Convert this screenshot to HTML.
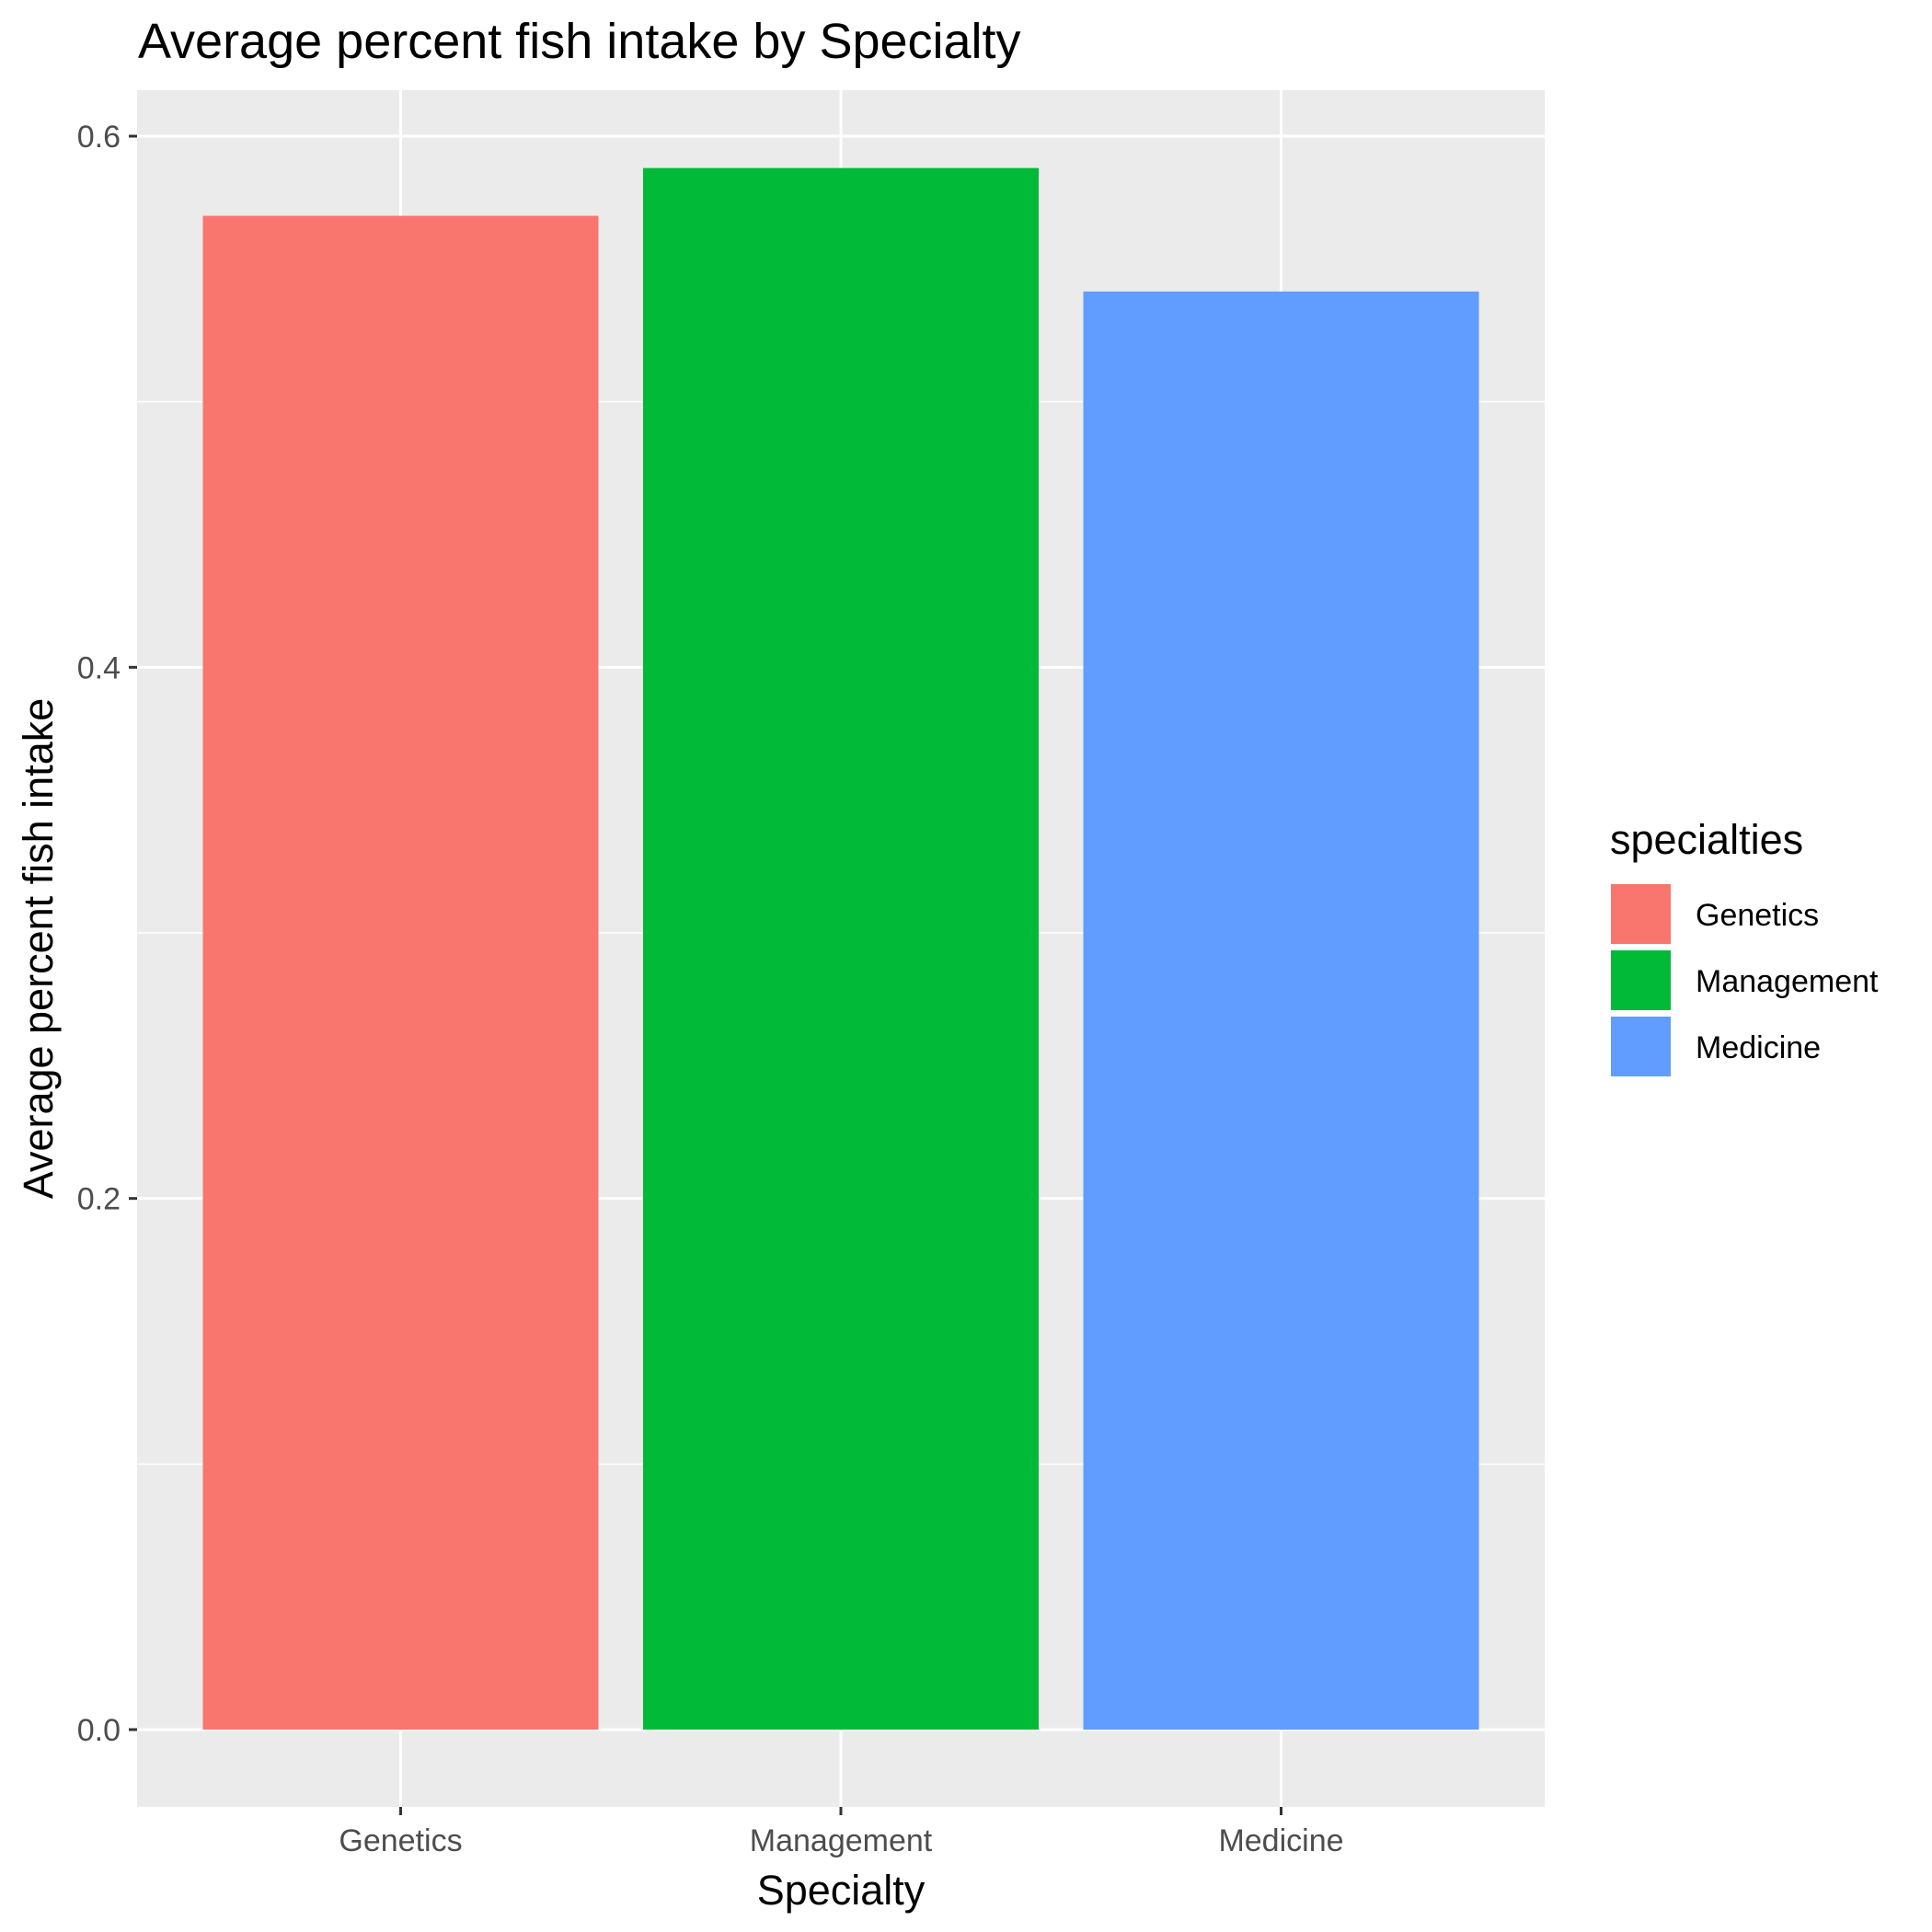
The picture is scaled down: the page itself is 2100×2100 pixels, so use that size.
<!DOCTYPE html>
<html><head><meta charset="utf-8"><style>body{margin:0;background:#fff}svg{display:block}</style></head>
<body>
<svg id="chart" width="2100" height="2100" viewBox="0 0 2100 2100" font-family="Liberation Sans, Arial, sans-serif">
<text x="150" y="63" font-size="54" fill="#000">Average percent fish intake by Specialty</text>
<rect x="149" y="98" width="1530" height="1866" fill="#ebebeb"/>
<g id="grid"></g><g id="bars"></g><g id="axes"></g>
<text x="914" y="2070" font-size="45" text-anchor="middle" fill="#000">Specialty</text>
<text transform="translate(57,1031) rotate(-90)" font-size="45" text-anchor="middle" fill="#000">Average percent fish intake</text>
<g id="legend">
<text x="1750" y="928" font-size="45" fill="#000">specialties</text>
</g>
</svg>
<script>
const categories = ["Genetics","Management","Medicine"];
const values = [0.570, 0.588, 0.5415];
const colors = ["#F8766D","#00BA38","#619CFF"];
const yTicks = [0, 0.2, 0.4, 0.6];
const yTickLabels = ["0.0","0.2","0.4","0.6"];
const yMinor = [0.1, 0.3, 0.5];
const NS="http://www.w3.org/2000/svg";
const y = v => 1880 - v*(1880-148)/0.6;
const x = i => 435.5 + i*478.5;
const bw = 430;
function mk(tag, attrs, parent){const e=document.createElementNS(NS,tag);for(const k in attrs)e.setAttribute(k,attrs[k]);parent.appendChild(e);return e;}
const grid=document.getElementById('grid'), bars=document.getElementById('bars'), axes=document.getElementById('axes'), legend=document.getElementById('legend');
yMinor.forEach(v=>{const l=mk('line',{x1:149,x2:1679,y1:y(v),y2:y(v),stroke:'#fff','stroke-width':1.5},grid);

});
yTicks.forEach((v,i)=>{const l=mk('line',{x1:149,x2:1679,y1:y(v),y2:y(v),stroke:'#fff','stroke-width':3},grid);


const t=mk('line',{x1:140,x2:149,y1:y(v),y2:y(v),stroke:'#333','stroke-width':3},axes);


const tx=mk('text',{x:131,y:y(v)+12,'font-size':34,'text-anchor':'end',fill:'#4d4d4d'},axes);tx.textContent=yTickLabels[i];

});
categories.forEach((c,i)=>{const l=mk('line',{x1:x(i),x2:x(i),y1:98,y2:1964,stroke:'#fff','stroke-width':3},grid);


const b=mk('rect',{x:x(i)-bw/2,y:y(values[i]),width:bw,height:y(0)-y(values[i]),fill:colors[i]},bars);


const t=mk('line',{x1:x(i),x2:x(i),y1:1964,y2:1973,stroke:'#333','stroke-width':3},axes);


const tx=mk('text',{x:x(i),y:2012,'font-size':34,'text-anchor':'middle',fill:'#4d4d4d'},axes);tx.textContent=c;


const k=mk('rect',{x:1750,y:960+i*72,width:67,height:67,fill:colors[i],stroke:'#fff','stroke-width':2},legend);


const lt=mk('text',{x:1843,y:1006+i*72,'font-size':34,fill:'#000'},legend);lt.textContent=c;

});
</script>
</body></html>
